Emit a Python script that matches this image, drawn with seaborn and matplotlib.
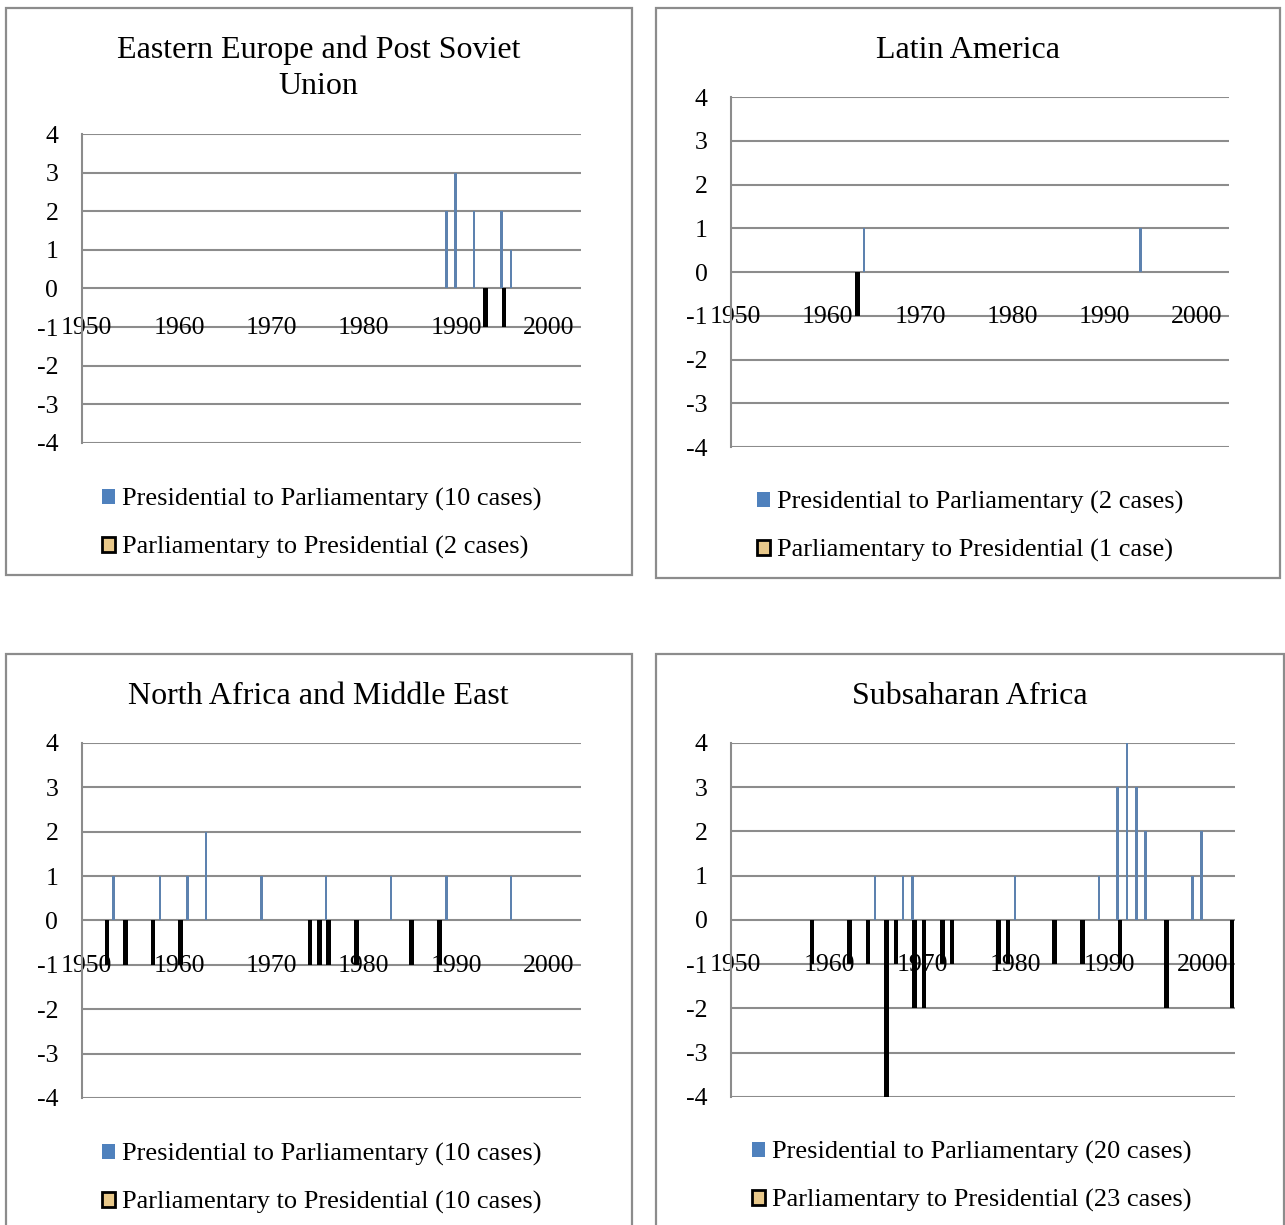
import pandas as pd
import matplotlib
matplotlib.use("Agg")
import matplotlib.pyplot as plt
import matplotlib.patches as mpatches
import seaborn as sns

# --- data: regime changes per year (all panels share the 1950-2003 category axis) ---
years = list(range(1950, 2004))
tick_years = [1950, 1960, 1970, 1980, 1990, 2000]

ee_pp_years = [1989, 1990, 1992, 1995, 1996]
ee_pp_vals = [2, 3, 2, 2, 1]
ee_rp_years = [1993, 1995]
ee_rp_vals = [-1, -1]

la_pp_years = [1964, 1994]
la_pp_vals = [1, 1]
la_rp_years = [1963]
la_rp_vals = [-1]

na_pp_years = [1953, 1958, 1961, 1963, 1969, 1976, 1983, 1989, 1996]
na_pp_vals = [1, 1, 1, 2, 1, 1, 1, 1, 1]
na_rp_years = [1952, 1954, 1957, 1960, 1974, 1975, 1976, 1979, 1985, 1988]
na_rp_vals = [-1, -1, -1, -1, -1, -1, -1, -1, -1, -1]

ssa_pp_years = [1965, 1968, 1969, 1980, 1989, 1991, 1992, 1993, 1994, 1999, 2000]
ssa_pp_vals = [1, 1, 1, 1, 1, 3, 4, 3, 2, 1, 2]
ssa_rp_years = [1958, 1962, 1964, 1966, 1967, 1969, 1970, 1972, 1973, 1978, 1979,
                1984, 1987, 1991, 1996, 2003]
ssa_rp_vals = [-1, -1, -1, -4, -1, -2, -2, -1, -1, -1, -1, -1, -1, -1, -2, -2]

PP = "Presidential to Parliamentary"
RP = "Parliamentary to Presidential"

panels = [
    dict(title="Eastern Europe and Post Soviet\nUnion", pp=(ee_pp_years, ee_pp_vals),
         rp=(ee_rp_years, ee_rp_vals), pp_lab="(10 cases)", rp_lab="(2 cases)"),
    dict(title="Latin America", pp=(la_pp_years, la_pp_vals),
         rp=(la_rp_years, la_rp_vals), pp_lab="(2 cases)", rp_lab="(1 case)"),
    dict(title="North Africa and Middle East", pp=(na_pp_years, na_pp_vals),
         rp=(na_rp_years, na_rp_vals), pp_lab="(10 cases)", rp_lab="(10 cases)"),
    dict(title="Subsaharan Africa", pp=(ssa_pp_years, ssa_pp_vals),
         rp=(ssa_rp_years, ssa_rp_vals), pp_lab="(20 cases)", rp_lab="(23 cases)"),
]

# --- layout (figure fractions) ---
axes_rects = [
    [0.0638, 0.6384, 0.3883, 0.2522],
    [0.5689, 0.6351, 0.3875, 0.2857],
    [0.0638, 0.1037, 0.3883, 0.2898],
    [0.5689, 0.1045, 0.3922, 0.2890],
]
frame_rects = [
    [0.0047, 0.5306, 0.4872, 0.4629],
    [0.5105, 0.5282, 0.4856, 0.4653],
    [0.0047, -0.01, 0.4872, 0.4761],
    [0.5105, -0.01, 0.4887, 0.4761],
]
title_pos = [(0.2479, 0.9445), (0.7533, 0.9584), (0.2479, 0.4316), (0.7549, 0.4316)]
legend_anchor = [(0.0794, 0.6017), (0.5891, 0.5992), (0.0794, 0.0670), (0.5852, 0.0686)]

BLUE = "#4F81BD"
GRID = "#8C8C8C"

sns.set_style("white")
plt.rcParams["font.family"] = ["Liberation Serif", "DejaVu Serif"]
plt.rcParams["text.color"] = "black"
plt.rcParams["axes.unicode_minus"] = False

fig = plt.figure(figsize=(12.85, 12.25), dpi=100)

for rect in frame_rects:
    fig.patches.append(mpatches.Rectangle((rect[0], rect[1]), rect[2], rect[3],
                                          transform=fig.transFigure, fill=False,
                                          edgecolor=GRID, linewidth=1.6))

for i, p in enumerate(panels):
    ax = fig.add_axes(axes_rects[i])
    df = pd.concat([
        pd.DataFrame({"year": p["pp"][0], "value": p["pp"][1], "series": PP}),
        pd.DataFrame({"year": p["rp"][0], "value": p["rp"][1], "series": RP}),
    ], ignore_index=True)

    sns.barplot(data=df, x="year", y="value", hue="series", order=years,
                hue_order=[PP, RP], palette=[BLUE, "black"], width=0.6,
                dodge=True, errorbar=None, legend=False, ax=ax, zorder=3)

    # thin blue columns, thicker black columns (as in the original)
    for cont, w, off in zip(ax.containers, [0.28, 0.5], [-0.07, 0.19]):
        for bar in cont:
            c = round(bar.get_x() + bar.get_width() / 2)
            bar.set_width(w)
            bar.set_x(c + off - w / 2)
            bar.set_linewidth(0)

    ax.set_xlim(-0.5, len(years) - 0.5)
    ax.set_ylim(-4, 4)
    ax.set_yticks(range(-4, 5))
    ax.yaxis.grid(True, color=GRID, linewidth=1.5)
    ax.set_axisbelow(True)
    ax.set_xlabel("")
    ax.set_ylabel("")

    # category labels sit on the y = -1 line, like the original
    ax.set_xticks([])
    for y in tick_years:
        ax.text(years.index(y), -1.02, str(y), ha="center", va="center",
                fontsize=18.5, zorder=2)
    ax.tick_params(axis="y", length=0, pad=17, labelsize=18.5, colors="black")

    for s in ["top", "right", "bottom"]:
        ax.spines[s].set_visible(False)
    ax.spines["left"].set_color(GRID)
    ax.spines["left"].set_linewidth(1.5)

    fig.text(title_pos[i][0], title_pos[i][1], p["title"], ha="center", va="center",
             fontsize=23, linespacing=1.3)

    handles = [
        mpatches.Patch(facecolor=BLUE, edgecolor=BLUE, linewidth=0),
        mpatches.Patch(facecolor="#E8C88A", edgecolor="black", linewidth=2),
    ]
    labels = [f"{PP} {p['pp_lab']}", f"{RP} {p['rp_lab']}"]
    fig.legend(handles, labels, loc="upper left", bbox_to_anchor=legend_anchor[i],
               bbox_transform=fig.transFigure, frameon=False, fontsize=19,
               handlelength=0.5, handleheight=0.5, handletextpad=0.25,
               labelspacing=0.95, borderaxespad=0, borderpad=0)

fig.savefig("out.png", dpi=100)
